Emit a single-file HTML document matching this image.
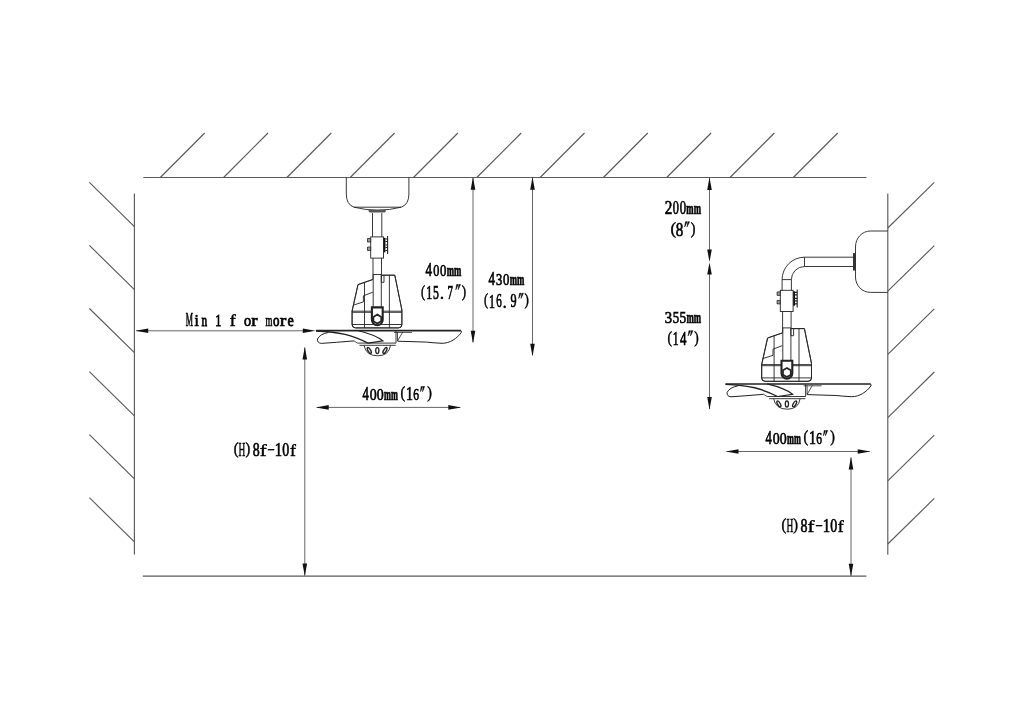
<!DOCTYPE html><html><head><meta charset="utf-8"><style>html,body{margin:0;padding:0;background:#fff;width:1024px;height:725px;overflow:hidden}svg{display:block;will-change:transform}text{font-family:"Liberation Serif",serif;fill:#000;stroke:#000;stroke-width:0.6}</style></head><body>
<svg width="1024" height="725" viewBox="0 0 1024 725">
<rect width="1024" height="725" fill="#fff"/>
<g stroke="#5a5a5a" stroke-width="1.15" fill="none">
<path d="M143.3 177.5H866.5"/>
<path d="M160.3 177.5l44.4 -44.5M223.6 177.5l44.4 -44.5M286.9 177.5l44.4 -44.5M350.2 177.5l44.4 -44.5M413.5 177.5l44.4 -44.5M476.8 177.5l44.4 -44.5M540.1 177.5l44.4 -44.5M603.4 177.5l44.4 -44.5M666.7 177.5l44.4 -44.5M730.0 177.5l44.4 -44.5M793.3 177.5l44.4 -44.5"/>
<path d="M134.4 193.4V554.6"/>
<path d="M134.4 226.6l-45 -44.2M134.4 289.6l-45 -44.2M134.4 352.7l-45 -44.2M134.4 415.8l-45 -44.2M134.4 478.8l-45 -44.2M134.4 541.9l-45 -44.2"/>
<path d="M887.8 193.4V554.8"/>
<path d="M887.8 228.0l46.5 -45.6M887.8 291.2l46.5 -45.6M887.8 354.4l46.5 -45.6M887.8 417.6l46.5 -45.6M887.8 480.8l46.5 -45.6M887.8 544.0l46.5 -45.6"/>
<path d="M142.8 576.1H866.4"/>
</g>
<path d="M473 177.5V342M532.5 177.5V355M136.2 330.8H310M304.8 347.5V575.5M316.7 407.4H460.3M709.5 177.5V258M709.5 266V409M726.5 451.5H869.7M851 457.5V576" stroke="#666" stroke-width="1" fill="none"/>
<path d="M473 177.10000000000002L470.7 189.8L475.3 189.8ZM473 343.5L470.7 330.8L475.3 330.8ZM532.5 177.10000000000002L530.2 189.8L534.8 189.8ZM532.5 356.4L530.2 343.7L534.8 343.7ZM135.5 330.8L148.2 328.5L148.2 333.1ZM315.5 330.8L302.8 328.5L302.8 333.1ZM304.8 346.8L302.5 359.5L307.1 359.5ZM304.8 576.2L302.5 563.5L307.1 563.5ZM316.0 407.4L328.7 405.09999999999997L328.7 409.7ZM461.0 407.4L448.3 405.09999999999997L448.3 409.7ZM709.5 177.3L707.2 190.0L711.8 190.0ZM709.5 261.9L707.2 249.59999999999997L711.8 249.59999999999997ZM709.5 262.5L707.2 274.6L711.8 274.6ZM709.5 409.7L707.2 397.0L711.8 397.0ZM725.8 451.5L738.5 449.2L738.5 453.8ZM870.4000000000001 451.5L857.7 449.2L857.7 453.8ZM851 456.8L848.7 469.5L853.3 469.5ZM851 576.5L848.7 563.8L853.3 563.8Z" fill="#111"/>
<g>
<text font-size="19" transform="matrix(0.4275 0 0 0.9525 185.84 325.73)" style="stroke-width:0.55" vector-effect="non-scaling-stroke">M</text>
<text font-size="19" transform="matrix(0.8189 0 0 0.9062 194.62 325.65)" style="stroke-width:0.7" vector-effect="non-scaling-stroke">i</text>
<text font-size="19" transform="matrix(0.5925 0 0 0.8377 201.39 325.65)" style="stroke-width:0.7" vector-effect="non-scaling-stroke">n</text>
<text font-size="19" transform="matrix(0.6428 0 0 0.9328 215.28 325.65)" style="stroke-width:0.7" vector-effect="non-scaling-stroke">1</text>
<text font-size="19" transform="matrix(0.9403 0 0 0.9045 229.70 325.75)" style="stroke-width:0.5" vector-effect="non-scaling-stroke">f</text>
<text font-size="19" transform="matrix(0.7451 0 0 0.8645 244.01 325.69)" style="stroke-width:0.7" vector-effect="non-scaling-stroke">o</text>
<text font-size="19" transform="matrix(0.9862 0 0 0.8377 251.17 325.65)" style="stroke-width:0.7" vector-effect="non-scaling-stroke">r</text>
<text font-size="19" transform="matrix(0.4651 0 0 0.8545 265.59 325.73)" style="stroke-width:0.55" vector-effect="non-scaling-stroke">m</text>
<text font-size="19" transform="matrix(0.6830 0 0 0.8645 272.96 325.69)" style="stroke-width:0.7" vector-effect="non-scaling-stroke">o</text>
<text font-size="19" transform="matrix(1.0381 0 0 0.8377 279.86 325.65)" style="stroke-width:0.7" vector-effect="non-scaling-stroke">r</text>
<text font-size="19" transform="matrix(0.7395 0 0 0.8645 287.60 325.69)" style="stroke-width:0.7" vector-effect="non-scaling-stroke">e</text>
<text font-size="19" transform="matrix(0.6907 0 0 0.9436 425.44 276.20)" style="stroke-width:0.6" vector-effect="non-scaling-stroke">4</text>
<text font-size="19" transform="matrix(0.6457 0 0 0.9203 433.23 276.03)" style="stroke-width:0.6" vector-effect="non-scaling-stroke">0</text>
<text font-size="19" transform="matrix(0.6706 0 0 0.9203 440.11 276.03)" style="stroke-width:0.6" vector-effect="non-scaling-stroke">0</text>
<text font-size="19" font-weight="bold" transform="matrix(0.4624 0 0 0.8768 446.74 276.23)" style="stroke-width:0.55" vector-effect="non-scaling-stroke">mm</text>
<text font-size="19" transform="matrix(0.6455 0 0 0.9026 420.99 296.52)" style="stroke-width:0.45" vector-effect="non-scaling-stroke">(</text>
<text font-size="19" transform="matrix(0.6279 0 0 0.9806 426.15 298.70)" style="stroke-width:0.6" vector-effect="non-scaling-stroke">1</text>
<text font-size="19" transform="matrix(0.6141 0 0 0.9741 433.12 298.52)" style="stroke-width:0.6" vector-effect="non-scaling-stroke">5</text>
<text font-size="19" transform="matrix(0.9354 0 0 1.0244 439.63 298.82)" style="stroke-width:0.4" vector-effect="non-scaling-stroke">.</text>
<text font-size="19" transform="matrix(0.5714 0 0 0.9887 447.58 298.70)" style="stroke-width:0.6" vector-effect="non-scaling-stroke">7</text>
<path d="M456.63 284.50L458.26 284.50L455.81 289.70ZM458.92 284.50L460.55 284.50L458.10 289.70Z" fill="#000" stroke="#000" stroke-width="0.5" stroke-linejoin="round"/>
<text font-size="19" transform="matrix(0.6865 0 0 0.9026 461.70 296.52)" style="stroke-width:0.45" vector-effect="non-scaling-stroke">)</text>
<text font-size="19" transform="matrix(0.6907 0 0 0.9356 488.44 285.10)" style="stroke-width:0.6" vector-effect="non-scaling-stroke">4</text>
<text font-size="19" transform="matrix(0.6625 0 0 0.9165 496.10 284.93)" style="stroke-width:0.6" vector-effect="non-scaling-stroke">3</text>
<text font-size="19" transform="matrix(0.6706 0 0 0.9125 503.11 284.93)" style="stroke-width:0.6" vector-effect="non-scaling-stroke">0</text>
<text font-size="19" font-weight="bold" transform="matrix(0.4624 0 0 0.8768 509.74 285.12)" style="stroke-width:0.55" vector-effect="non-scaling-stroke">mm</text>
<text font-size="19" transform="matrix(0.6455 0 0 0.9026 483.89 305.32)" style="stroke-width:0.45" vector-effect="non-scaling-stroke">(</text>
<text font-size="19" transform="matrix(0.6279 0 0 0.9806 489.05 307.50)" style="stroke-width:0.6" vector-effect="non-scaling-stroke">1</text>
<text font-size="19" transform="matrix(0.5790 0 0 0.9635 496.23 307.32)" style="stroke-width:0.6" vector-effect="non-scaling-stroke">6</text>
<text font-size="19" transform="matrix(0.9354 0 0 1.0244 502.53 307.62)" style="stroke-width:0.4" vector-effect="non-scaling-stroke">.</text>
<text font-size="19" transform="matrix(0.6413 0 0 0.9635 510.51 307.32)" style="stroke-width:0.6" vector-effect="non-scaling-stroke">9</text>
<path d="M519.53 293.30L521.16 293.30L518.71 298.50ZM521.82 293.30L523.45 293.30L521.00 298.50Z" fill="#000" stroke="#000" stroke-width="0.5" stroke-linejoin="round"/>
<text font-size="19" transform="matrix(0.6865 0 0 0.9026 524.60 305.32)" style="stroke-width:0.45" vector-effect="non-scaling-stroke">)</text>
<text font-size="19" transform="matrix(0.6680 0 0 0.9516 362.55 400.30)" style="stroke-width:0.6" vector-effect="non-scaling-stroke">4</text>
<text font-size="19" transform="matrix(0.7327 0 0 0.9281 369.77 400.13)" style="stroke-width:0.6" vector-effect="non-scaling-stroke">0</text>
<text font-size="19" transform="matrix(0.7327 0 0 0.9281 376.77 400.13)" style="stroke-width:0.6" vector-effect="non-scaling-stroke">0</text>
<text font-size="19" font-weight="bold" transform="matrix(0.4364 0 0 0.8768 384.05 400.33)" style="stroke-width:0.55" vector-effect="non-scaling-stroke">mm</text>
<text font-size="19" transform="matrix(0.7275 0 0 0.8794 400.62 398.22)" style="stroke-width:0.45" vector-effect="non-scaling-stroke">(</text>
<text font-size="19" transform="matrix(0.7325 0 0 0.9487 406.08 400.30)" style="stroke-width:0.6" vector-effect="non-scaling-stroke">1</text>
<text font-size="19" transform="matrix(0.6036 0 0 0.9322 413.31 400.13)" style="stroke-width:0.6" vector-effect="non-scaling-stroke">6</text>
<path d="M421.17 386.50L422.61 386.50L420.45 391.70ZM423.19 386.50L424.63 386.50L422.47 391.70Z" fill="#000" stroke="#000" stroke-width="0.5" stroke-linejoin="round"/>
<text font-size="19" transform="matrix(0.7275 0 0 0.8794 427.28 398.22)" style="stroke-width:0.45" vector-effect="non-scaling-stroke">)</text>
<text font-size="19" transform="matrix(0.6680 0 0 0.9516 765.55 444.30)" style="stroke-width:0.6" vector-effect="non-scaling-stroke">4</text>
<text font-size="19" transform="matrix(0.7327 0 0 0.9281 772.77 444.13)" style="stroke-width:0.6" vector-effect="non-scaling-stroke">0</text>
<text font-size="19" transform="matrix(0.7327 0 0 0.9281 779.77 444.13)" style="stroke-width:0.6" vector-effect="non-scaling-stroke">0</text>
<text font-size="19" font-weight="bold" transform="matrix(0.4364 0 0 0.8768 787.05 444.33)" style="stroke-width:0.55" vector-effect="non-scaling-stroke">mm</text>
<text font-size="19" transform="matrix(0.7275 0 0 0.8794 803.62 442.22)" style="stroke-width:0.45" vector-effect="non-scaling-stroke">(</text>
<text font-size="19" transform="matrix(0.7325 0 0 0.9487 809.08 444.30)" style="stroke-width:0.6" vector-effect="non-scaling-stroke">1</text>
<text font-size="19" transform="matrix(0.6036 0 0 0.9322 816.31 444.13)" style="stroke-width:0.6" vector-effect="non-scaling-stroke">6</text>
<path d="M824.17 430.50L825.61 430.50L823.45 435.70ZM826.19 430.50L827.63 430.50L825.48 435.70Z" fill="#000" stroke="#000" stroke-width="0.5" stroke-linejoin="round"/>
<text font-size="19" transform="matrix(0.7275 0 0 0.8794 830.28 442.22)" style="stroke-width:0.45" vector-effect="non-scaling-stroke">)</text>
<text font-size="19" transform="matrix(0.7480 0 0 0.8910 233.70 454.07)" style="stroke-width:0.45" vector-effect="non-scaling-stroke">(</text>
<text font-size="19" transform="matrix(0.4914 0 0 0.9887 238.53 456.30)" style="stroke-width:0.4" vector-effect="non-scaling-stroke">H</text>
<text font-size="19" transform="matrix(0.7480 0 0 0.8910 245.47 454.07)" style="stroke-width:0.45" vector-effect="non-scaling-stroke">)</text>
<text font-size="19" transform="matrix(0.7327 0 0 0.9437 252.67 456.02)" style="stroke-width:0.6" vector-effect="non-scaling-stroke">8</text>
<text font-size="19" transform="matrix(1.1058 0 0 0.9306 259.68 456.27)" style="stroke-width:0.45" vector-effect="non-scaling-stroke">f</text>
<text font-size="19" transform="matrix(0.7126 0 0 1.1624 267.33 457.48)" style="stroke-width:0.2" vector-effect="non-scaling-stroke">−</text>
<text font-size="19" transform="matrix(0.7774 0 0 0.9647 274.80 456.20)" style="stroke-width:0.6" vector-effect="non-scaling-stroke">1</text>
<text font-size="19" transform="matrix(0.7327 0 0 0.9437 282.37 456.02)" style="stroke-width:0.6" vector-effect="non-scaling-stroke">0</text>
<text font-size="19" transform="matrix(0.9316 0 0 0.9306 289.88 456.27)" style="stroke-width:0.45" vector-effect="non-scaling-stroke">f</text>
<text font-size="19" transform="matrix(0.7480 0 0 0.8910 781.60 529.57)" style="stroke-width:0.45" vector-effect="non-scaling-stroke">(</text>
<text font-size="19" transform="matrix(0.4914 0 0 0.9887 786.43 531.80)" style="stroke-width:0.4" vector-effect="non-scaling-stroke">H</text>
<text font-size="19" transform="matrix(0.7480 0 0 0.8910 793.37 529.57)" style="stroke-width:0.45" vector-effect="non-scaling-stroke">)</text>
<text font-size="19" transform="matrix(0.7327 0 0 0.9437 800.57 531.52)" style="stroke-width:0.6" vector-effect="non-scaling-stroke">8</text>
<text font-size="19" transform="matrix(1.1058 0 0 0.9306 807.58 531.77)" style="stroke-width:0.45" vector-effect="non-scaling-stroke">f</text>
<text font-size="19" transform="matrix(0.7126 0 0 1.1624 815.23 532.98)" style="stroke-width:0.2" vector-effect="non-scaling-stroke">−</text>
<text font-size="19" transform="matrix(0.7774 0 0 0.9647 822.70 531.70)" style="stroke-width:0.6" vector-effect="non-scaling-stroke">1</text>
<text font-size="19" transform="matrix(0.7327 0 0 0.9437 830.27 531.52)" style="stroke-width:0.6" vector-effect="non-scaling-stroke">0</text>
<text font-size="19" transform="matrix(0.9316 0 0 0.9306 837.78 531.77)" style="stroke-width:0.45" vector-effect="non-scaling-stroke">f</text>
<text font-size="19" transform="matrix(0.8009 0 0 0.9618 664.63 214.00)" style="stroke-width:0.6" vector-effect="non-scaling-stroke">2</text>
<text font-size="19" transform="matrix(0.6457 0 0 0.9437 672.83 213.82)" style="stroke-width:0.6" vector-effect="non-scaling-stroke">0</text>
<text font-size="19" transform="matrix(0.6706 0 0 0.9437 679.71 213.82)" style="stroke-width:0.6" vector-effect="non-scaling-stroke">0</text>
<text font-size="19" font-weight="bold" transform="matrix(0.4624 0 0 0.8768 686.34 214.03)" style="stroke-width:0.55" vector-effect="non-scaling-stroke">mm</text>
<text font-size="19" transform="matrix(0.8709 0 0 0.9142 670.50 233.88)" style="stroke-width:0.45" vector-effect="non-scaling-stroke">(</text>
<text font-size="19" transform="matrix(0.7948 0 0 0.9749 675.82 235.92)" style="stroke-width:0.6" vector-effect="non-scaling-stroke">8</text>
<path d="M685.48 221.70L687.17 221.70L684.63 226.90ZM687.86 221.70L689.56 221.70L687.01 226.90Z" fill="#000" stroke="#000" stroke-width="0.5" stroke-linejoin="round"/>
<text font-size="19" transform="matrix(0.7480 0 0 0.9142 690.77 233.88)" style="stroke-width:0.45" vector-effect="non-scaling-stroke">)</text>
<text font-size="19" transform="matrix(0.7772 0 0 0.9244 664.79 323.13)" style="stroke-width:0.6" vector-effect="non-scaling-stroke">3</text>
<text font-size="19" transform="matrix(0.6794 0 0 0.9345 672.75 323.13)" style="stroke-width:0.6" vector-effect="non-scaling-stroke">5</text>
<text font-size="19" transform="matrix(0.7055 0 0 0.9345 679.62 323.13)" style="stroke-width:0.6" vector-effect="non-scaling-stroke">5</text>
<text font-size="19" font-weight="bold" transform="matrix(0.4624 0 0 0.8768 686.54 323.33)" style="stroke-width:0.55" vector-effect="non-scaling-stroke">mm</text>
<text font-size="19" transform="matrix(0.7070 0 0 0.9026 667.53 342.72)" style="stroke-width:0.45" vector-effect="non-scaling-stroke">(</text>
<text font-size="19" transform="matrix(0.6129 0 0 0.9806 672.78 344.90)" style="stroke-width:0.6" vector-effect="non-scaling-stroke">1</text>
<text font-size="19" transform="matrix(0.6793 0 0 0.9835 680.05 344.90)" style="stroke-width:0.6" vector-effect="non-scaling-stroke">4</text>
<path d="M688.95 330.70L690.62 330.70L688.12 335.90ZM691.29 330.70L692.96 330.70L690.46 335.90Z" fill="#000" stroke="#000" stroke-width="0.5" stroke-linejoin="round"/>
<text font-size="19" transform="matrix(0.7070 0 0 0.9026 694.19 342.72)" style="stroke-width:0.45" vector-effect="non-scaling-stroke">)</text>
</g>
<g id="fan" stroke="#222" fill="none" stroke-width="0.9"><rect x="370.7" y="236.9" width="12.8" height="21.2" fill="#fff"/><path d="M367.5 238.5h3.2v3.5h-3.2zM367.5 247h3.2v3.5h-3.2z" fill="#999" stroke-width="0.8"/><path d="M383.6 237.8h1.8v14.5h-1.8z" fill="#111" stroke="none"/><path d="M385.4 239h2.2M385.4 241.5h2.2M385.4 245h2.2M385.4 247.5h2.2M385.4 250.5h2.2" stroke="#222" stroke-width="1.2"/><path d="M387.6 236V254" stroke="#222" stroke-width="1.1"/><path d="M373 258.1V307M381.5 258.1V307M373 274.5H381.5"/><path d="M381.3 275.2H394.8L401.9 310.1V324.5Q401.9 327.9 398.5 327.9H355.5Q352.1 327.9 352.1 324.5V311L358 284.6L372.8 279.5" fill="#fff"/><path d="M381.3 275.2H394.8L401.9 310.1V324.5Q401.9 327.9 398.5 327.9H355.5Q352.1 327.9 352.1 324.5V311L358 284.6L372.8 279.5"/><path d="M381.3 275.2V282.3H384V275.2"/><path d="M373.2 274.5V307M381.3 274.5V307" /><path d="M353.2 305.2L363.4 301.9V295.8L372.8 292.2"/><path d="M364.5 282.5V327.9M389.4 275.2V327.9"/><path d="M352.1 311.2H401.9M352.1 312.3H401.9M352.1 324.5H401.9"/><path d="M371.9 307.4H382.7V319.8A5.4 5.4 0 0 1 371.9 319.8Z" fill="#fff" stroke-width="2.1"/><path d="M377.3 314.6L381.2 316.9V321.3L377.3 323.6L373.4 321.3V316.9Z" stroke-width="1.7"/><path d="M315.9 330.6H461" stroke-width="1.7"/><path d="M460.5 330.6Q462.3 331 461.2 332.6C457 338.5 450 343.3 442 343.3Q432 342.8 426.5 342.1L397.5 341.2" stroke-width="1"/><path d="M394 332.4H412M397.5 332V341M402.8 332L397.5 341" stroke-width="0.8"/><path d="M328.5 332.4Q320 334 317.5 339Q317 343 321.4 343.4Q335 342.5 354 340.9" stroke-width="1"/><path d="M316 331C340 332 352 335 368 343.1" stroke-width="1.4"/><path d="M357.5 330.5C368 333 377 336 383 340.9L368 343.1" stroke-width="1.1"/><path d="M354 340.9L357.5 343.1" stroke-width="0.8"/><path d="M357.5 343.1H396M359.5 345.3H395.7M396 331V343.1" stroke-width="0.9"/><path d="M364 345.3Q366 355.8 377.7 355.8Q389 355.8 390.5 345.3" stroke-width="0.9"/><ellipse cx="377.3" cy="350.6" rx="1.6" ry="3" stroke-width="1.3"/><ellipse cx="369.3" cy="350.5" rx="1.3" ry="3.3" transform="rotate(-30 369.3 350.5)" stroke-width="1.4"/><ellipse cx="385" cy="350.5" rx="1.3" ry="3.3" transform="rotate(30 385 350.5)" stroke-width="1.4"/></g>
<g transform="translate(409.6 53.4)" stroke="#222" fill="none" stroke-width="0.9"><rect x="370.7" y="236.9" width="12.8" height="21.2" fill="#fff"/><path d="M367.5 238.5h3.2v3.5h-3.2zM367.5 247h3.2v3.5h-3.2z" fill="#999" stroke-width="0.8"/><path d="M383.6 237.8h1.8v14.5h-1.8z" fill="#111" stroke="none"/><path d="M385.4 239h2.2M385.4 241.5h2.2M385.4 245h2.2M385.4 247.5h2.2M385.4 250.5h2.2" stroke="#222" stroke-width="1.2"/><path d="M387.6 236V254" stroke="#222" stroke-width="1.1"/><path d="M373 258.1V307M381.5 258.1V307M373 274.5H381.5"/><path d="M381.3 275.2H394.8L401.9 310.1V324.5Q401.9 327.9 398.5 327.9H355.5Q352.1 327.9 352.1 324.5V311L358 284.6L372.8 279.5" fill="#fff"/><path d="M381.3 275.2H394.8L401.9 310.1V324.5Q401.9 327.9 398.5 327.9H355.5Q352.1 327.9 352.1 324.5V311L358 284.6L372.8 279.5"/><path d="M381.3 275.2V282.3H384V275.2"/><path d="M373.2 274.5V307M381.3 274.5V307" /><path d="M353.2 305.2L363.4 301.9V295.8L372.8 292.2"/><path d="M364.5 282.5V327.9M389.4 275.2V327.9"/><path d="M352.1 311.2H401.9M352.1 312.3H401.9M352.1 324.5H401.9"/><path d="M371.9 307.4H382.7V319.8A5.4 5.4 0 0 1 371.9 319.8Z" fill="#fff" stroke-width="2.1"/><path d="M377.3 314.6L381.2 316.9V321.3L377.3 323.6L373.4 321.3V316.9Z" stroke-width="1.7"/><path d="M315.9 330.6H461" stroke-width="1.7"/><path d="M460.5 330.6Q462.3 331 461.2 332.6C457 338.5 450 343.3 442 343.3Q432 342.8 426.5 342.1L397.5 341.2" stroke-width="1"/><path d="M394 332.4H412M397.5 332V341M402.8 332L397.5 341" stroke-width="0.8"/><path d="M328.5 332.4Q320 334 317.5 339Q317 343 321.4 343.4Q335 342.5 354 340.9" stroke-width="1"/><path d="M316 331C340 332 352 335 368 343.1" stroke-width="1.4"/><path d="M357.5 330.5C368 333 377 336 383 340.9L368 343.1" stroke-width="1.1"/><path d="M354 340.9L357.5 343.1" stroke-width="0.8"/><path d="M357.5 343.1H396M359.5 345.3H395.7M396 331V343.1" stroke-width="0.9"/><path d="M364 345.3Q366 355.8 377.7 355.8Q389 355.8 390.5 345.3" stroke-width="0.9"/><ellipse cx="377.3" cy="350.6" rx="1.6" ry="3" stroke-width="1.3"/><ellipse cx="369.3" cy="350.5" rx="1.3" ry="3.3" transform="rotate(-30 369.3 350.5)" stroke-width="1.4"/><ellipse cx="385" cy="350.5" rx="1.3" ry="3.3" transform="rotate(30 385 350.5)" stroke-width="1.4"/></g>
<g stroke="#222" fill="none" stroke-width="0.9">
<path d="M346.3 177.6V194Q346.3 204.5 354 207.2H401.2Q408.9 204.5 408.9 194V177.6M354 207.2Q377.6 213.2 401.2 207.2"/>
<path d="M368.5 209.8H385.9Q386 212.6 384 212.6H370.5Q368.4 212.6 368.5 209.8Z" fill="#555" stroke="none"/>
<path d="M372.5 213V236.9M381.8 213V236.9"/>
</g>
<g stroke="#222" fill="none" stroke-width="0.9">
<path d="M853.4 257.2H804.5A22.4 22.4 0 0 0 782.1 279.6V290.3"/>
<path d="M853.4 266.5H804.5A13.1 13.1 0 0 0 791.4 279.6V290.3"/>
<path d="M804.5 257.2V266.5M782.1 279.6H791.4"/>
<path d="M853 253.1H855.3V270.5H853Z" fill="#333" stroke="none"/>
<path d="M887.8 231H870.5C862 231 855.5 238 855.5 247V277C855.5 285.5 862 292.4 870.5 292.4H887.8"/>
</g>
</svg></body></html>
